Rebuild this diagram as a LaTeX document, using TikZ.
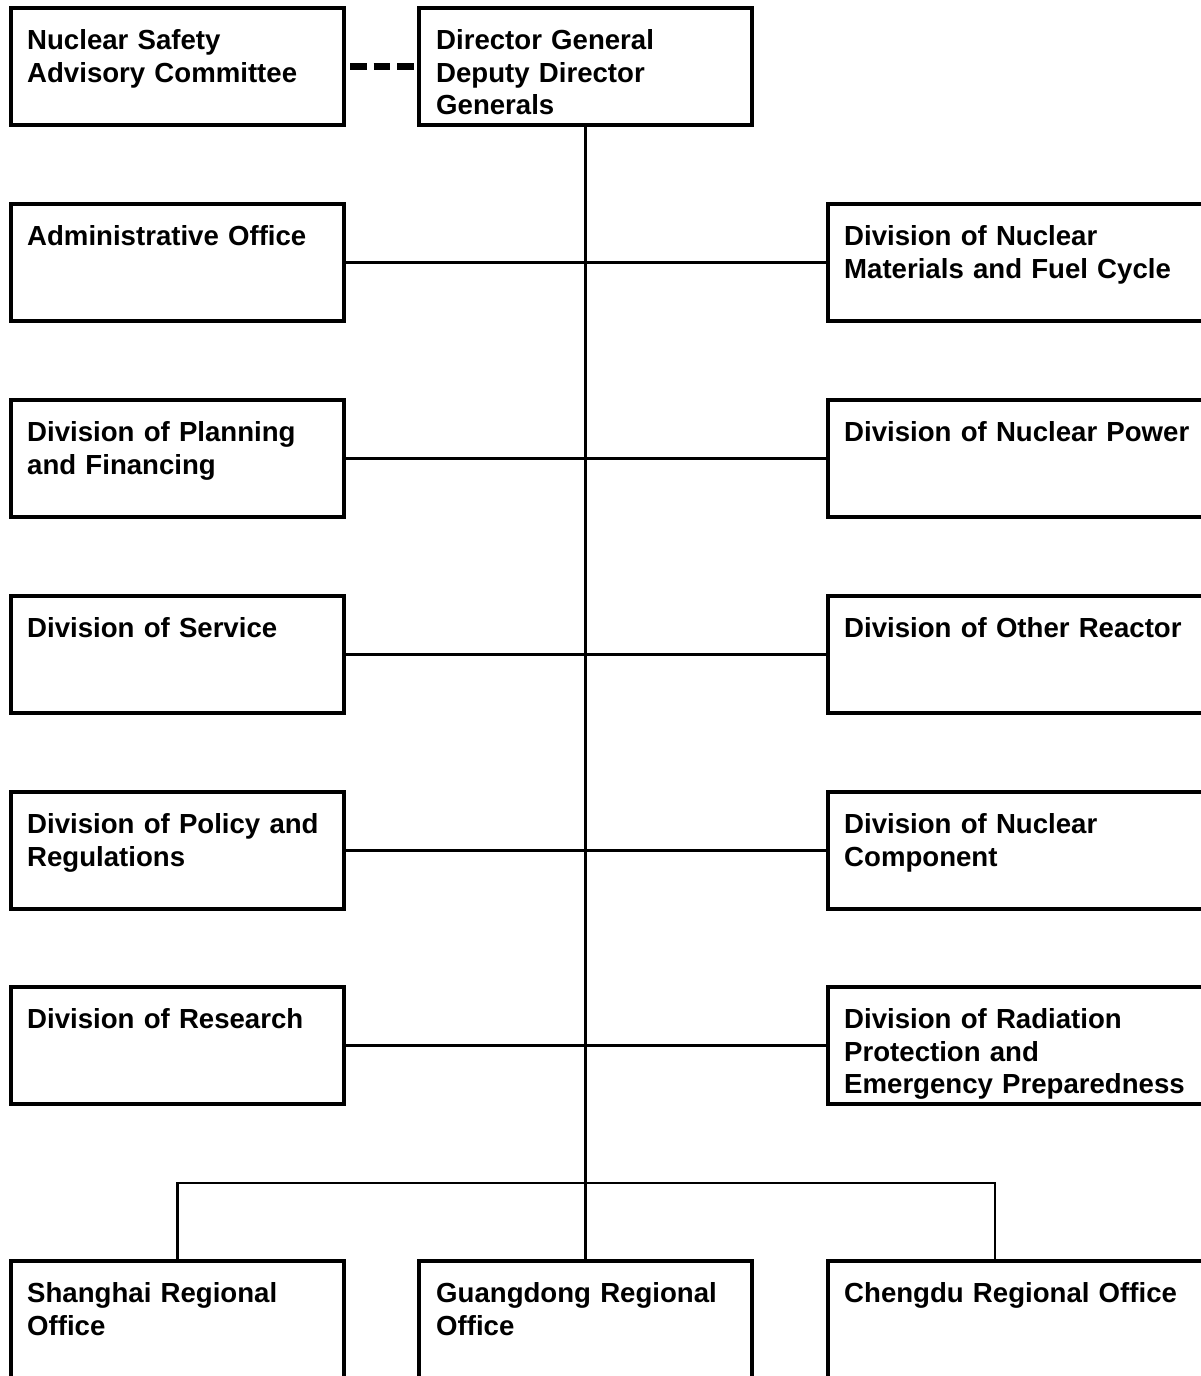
\documentclass[tikz,border=0pt]{standalone}
\usepackage{fontspec}
\setmainfont{Liberation Sans}
\usetikzlibrary{calc}

\tikzset{
  orgbox/.style={draw=black, fill=white, line width=4.5pt, inner sep=0pt,
    outer sep=0pt, anchor=north west, minimum height=117pt},
  narrowbox/.style={orgbox, minimum width=333pt},
  widebox/.style={orgbox, minimum width=375pt},
  boxtext/.style={anchor=base west, inner sep=0pt, text width=370pt, align=left,
    font={\fontsize{27.6}{32.5}\selectfont\bfseries}},
  link/.style={draw=black, line width=2.2pt},
  advice/.style={draw=black, line width=6.5pt, dash pattern=on 16.5pt off 7pt, dash phase=17.5pt}
}

\begin{document}
\begin{tikzpicture}[x=1pt, y=-1pt]
\useasboundingbox (0,0) rectangle (1201,1376);
\clip (0,0) rectangle (1201,1376);

% top row
\node[narrowbox] (nsac) at (11,8) {};
\node[narrowbox] (dg) at (419,8) {};

% left column
\node[narrowbox] (adm) at (11,204) {};
\node[narrowbox] (plan) at (11,400) {};
\node[narrowbox] (serv) at (11,596) {};
\node[narrowbox] (pol) at (11,792) {};
\node[narrowbox] (res) at (11,987) {};

% right column
\node[widebox] (mat) at (828,204) {};
\node[widebox] (pow) at (828,400) {};
\node[widebox] (oth) at (828,596) {};
\node[widebox] (comp) at (828,792) {};
\node[widebox] (rad) at (828,987) {};

% regional offices
\node[narrowbox, minimum height=160pt] (sh) at (11,1261) {};
\node[narrowbox, minimum height=160pt] (gd) at (419,1261) {};
\node[widebox, minimum height=160pt] (ch) at (828,1261) {};

% bus feeding the regional offices
\coordinate (busL) at (177.5,1183);
\coordinate (busR) at (995,1183);

% connectors
\draw[link] (dg.south) -- (gd.north);
\draw[link] (adm.east) -- (mat.west);
\draw[link] (plan.east) -- (pow.west);
\draw[link] (serv.east) -- (oth.west);
\draw[link] (pol.east) -- (comp.west);
\draw[link] (res.east) -- (rad.west);
\draw[link] (sh.north -| busL) -- (busL) -- (busR) -- (busR |- ch.north);
\draw[advice] (nsac.east) -- (dg.west);

% labels
\node[boxtext] (nsac-t) at ($(nsac.north west)+(16,41.5)$) {Nuclear Safety\\Advisory Committee};
\node[boxtext] (dg-t) at ($(dg.north west)+(17,41.5)$) {Director General\\Deputy Director\\Generals};
\node[boxtext] (adm-t) at ($(adm.north west)+(16,41.5)$) {Administrative Office};
\node[boxtext] (plan-t) at ($(plan.north west)+(16,41.5)$) {Division of Planning\\and Financing};
\node[boxtext] (serv-t) at ($(serv.north west)+(16,41.5)$) {Division of Service};
\node[boxtext] (pol-t) at ($(pol.north west)+(16,41.5)$) {Division of Policy and\\Regulations};
\node[boxtext] (res-t) at ($(res.north west)+(16,41.5)$) {Division of Research};
\node[boxtext] (mat-t) at ($(mat.north west)+(16,41.5)$) {Division of Nuclear\\Materials and Fuel Cycle};
\node[boxtext] (pow-t) at ($(pow.north west)+(16,41.5)$) {Division of Nuclear Power};
\node[boxtext] (oth-t) at ($(oth.north west)+(16,41.5)$) {Division of Other Reactor};
\node[boxtext] (comp-t) at ($(comp.north west)+(16,41.5)$) {Division of Nuclear\\Component};
\node[boxtext] (rad-t) at ($(rad.north west)+(16,41.5)$) {Division of Radiation\\Protection and\\Emergency Preparedness};
\node[boxtext] (sh-t) at ($(sh.north west)+(16,41.5)$) {Shanghai Regional\\Office};
\node[boxtext] (gd-t) at ($(gd.north west)+(17,41.5)$) {Guangdong Regional\\Office};
\node[boxtext] (ch-t) at ($(ch.north west)+(16,41.5)$) {Chengdu Regional Office};
\end{tikzpicture}
\end{document}
